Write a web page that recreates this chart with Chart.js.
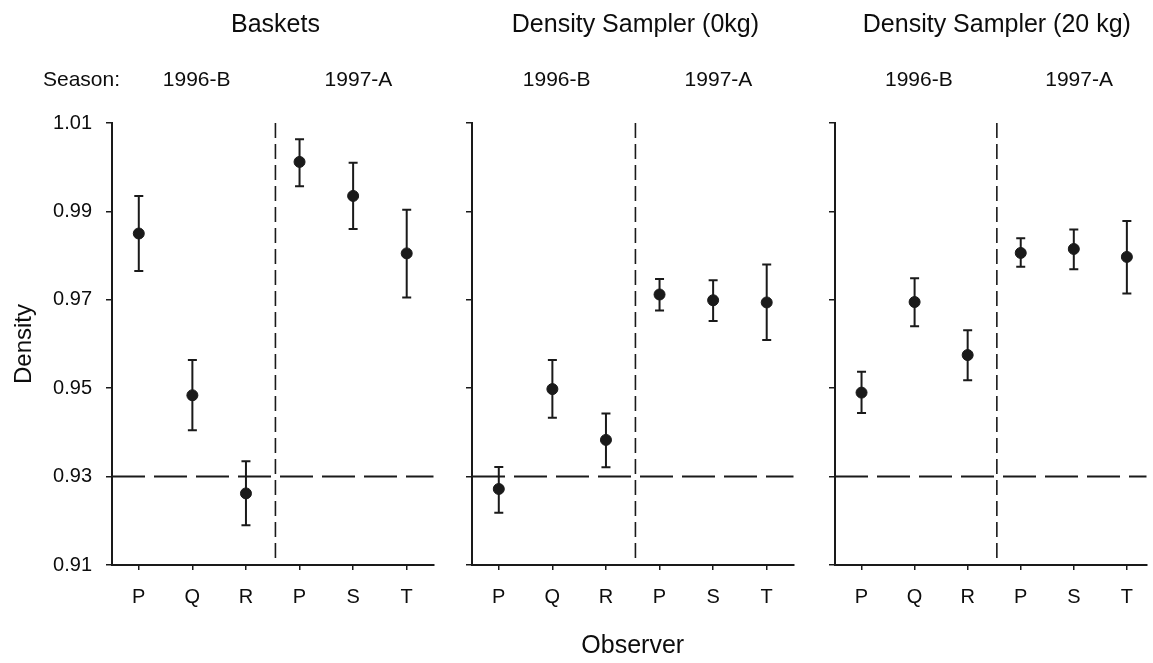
<!DOCTYPE html>
<html>
<head>
<meta charset="utf-8">
<title>Density by observer</title>
<script src="https://cdn.jsdelivr.net/npm/chart.js@4.4.1/dist/chart.umd.min.js"></script>
<style>
  html, body { margin: 0; padding: 0; background: #fff; }
  #wrap { position: relative; width: 1153px; height: 663px; overflow: hidden; }
  #wrap canvas { position: absolute; top: 0; }
</style>
</head>
<body>
<div id="wrap">
  <canvas id="panel0" width="440" height="663" style="left:0"></canvas>
  <canvas id="panel1" width="360" height="663" style="left:440px"></canvas>
  <canvas id="panel2" width="353" height="663" style="left:800px"></canvas>
</div>
<script>
// observers per season, same order in every panel
const observers = ['P', 'Q', 'R', 'P', 'S', 'T'];
const seasons = ['1996-B', '1997-A'];
const panelTitles = ['Baskets', 'Density Sampler (0kg)', 'Density Sampler (20 kg)'];
const yTicks = [0.91, 0.93, 0.95, 0.97, 0.99, 1.01];

// mean density with lower / upper ends of the error bars
const basketsMean = [0.9850, 0.9484, 0.9262, 1.0012, 0.9935, 0.9805];
const basketsLow  = [0.9765, 0.9405, 0.9190, 0.9957, 0.9860, 0.9705];
const basketsHigh = [0.9935, 0.9564, 0.9335, 1.0063, 1.0010, 0.9904];

const sampler0Mean = [0.9272, 0.9498, 0.9383, 0.9712, 0.9699, 0.9694];
const sampler0Low  = [0.9218, 0.9433, 0.9321, 0.9676, 0.9652, 0.9609];
const sampler0High = [0.9322, 0.9564, 0.9443, 0.9747, 0.9744, 0.9780];

const sampler20Mean = [0.9490, 0.9695, 0.9575, 0.9806, 0.9815, 0.9797];
const sampler20Low  = [0.9444, 0.9640, 0.9518, 0.9775, 0.9769, 0.9714];
const sampler20High = [0.9537, 0.9749, 0.9631, 0.9839, 0.9859, 0.9878];

const referenceDensity = 0.93;
const seasonSplit = 2.55;
const seasonCenters = [1.08, 4.1];

const INK = '#1a1a1a';
const FONT = "'Liberation Sans', Arial, Helvetica, sans-serif";
Chart.defaults.font.family = FONT;
Chart.defaults.color = '#0d0d0d';

const panels = [
  { id: 'panel0', mean: basketsMean, low: basketsLow, high: basketsHigh, yWidth: 112, padRight: 4, xMax: 5.5, first: true },
  { id: 'panel1', mean: sampler0Mean, low: sampler0Low, high: sampler0High, yWidth: 32, padRight: 3, xMax: 5.5, middle: true },
  { id: 'panel2', mean: sampler20Mean, low: sampler20Low, high: sampler20High, yWidth: 35, padRight: 0, xMax: 5.37 }
];

// error bars, season divider, reference line and header text
const panelDecor = (panel, idx) => ({
  id: 'panelDecor' + idx,
  beforeDatasetsDraw(chart) {
    const { ctx, scales: { x, y } } = chart;
    ctx.save();
    ctx.strokeStyle = INK;

    // horizontal reference line
    ctx.lineWidth = 2;
    ctx.setLineDash([33, 9]);
    const ry = y.getPixelForValue(referenceDensity);
    ctx.beginPath();
    ctx.moveTo(x.left, ry);
    ctx.lineTo(x.right, ry);
    ctx.stroke();

    // vertical season divider
    ctx.lineWidth = 1.6;
    ctx.setLineDash([15, 6]);
    const sx = x.getPixelForValue(seasonSplit);
    ctx.beginPath();
    ctx.moveTo(sx, y.top);
    ctx.lineTo(sx, y.bottom);
    ctx.stroke();

    // error bars
    ctx.setLineDash([]);
    ctx.lineWidth = 2;
    panel.low.forEach((lo, i) => {
      const px = x.getPixelForValue(i);
      const top = y.getPixelForValue(panel.high[i]);
      const bot = y.getPixelForValue(lo);
      ctx.beginPath();
      ctx.moveTo(px, top); ctx.lineTo(px, bot);
      ctx.moveTo(px - 4.5, top); ctx.lineTo(px + 4.5, top);
      ctx.moveTo(px - 4.5, bot); ctx.lineTo(px + 4.5, bot);
      ctx.stroke();
    });
    ctx.restore();
  },
  afterDraw(chart) {
    const { ctx, scales: { x } } = chart;
    ctx.save();
    ctx.fillStyle = '#0d0d0d';
    ctx.textBaseline = 'middle';
    ctx.textAlign = 'center';
    ctx.font = '25px ' + FONT;
    ctx.fillText(panelTitles[idx], x.getPixelForValue(seasonSplit), 25);
    ctx.font = '21px ' + FONT;
    seasons.forEach((s, k) => ctx.fillText(s, x.getPixelForValue(seasonCenters[k]), 80));
    if (panel.first) {
      ctx.textAlign = 'right';
      ctx.fillText('Season:', x.left + 8, 80);
    }
    ctx.restore();
  }
});

panels.forEach((panel, idx) => {
  new Chart(document.getElementById(panel.id), {
    type: 'scatter',
    data: {
      datasets: [{
        data: panel.mean.map((v, i) => ({ x: i, y: v })),
        pointRadius: 5.5,
        pointBackgroundColor: INK,
        pointBorderColor: INK,
        pointBorderWidth: 1
      }]
    },
    options: {
      responsive: false,
      animation: false,
      events: [],
      layout: { padding: { top: 123, right: panel.padRight, bottom: 0, left: 0 } },
      plugins: { legend: { display: false }, tooltip: { enabled: false } },
      scales: {
        x: {
          type: 'linear',
          min: -0.5,
          max: panel.xMax,
          afterBuildTicks: (scale) => { scale.ticks = observers.map((_, i) => ({ value: i })); },
          afterFit: (scale) => { scale.height = 98; },
          ticks: {
            padding: 15,
            font: { size: 20 },
            color: '#0d0d0d',
            callback: (v, i) => observers[i]
          },
          grid: { drawOnChartArea: false, drawTicks: true, tickLength: 5, color: INK, lineWidth: 1.5 },
          border: { display: true, color: INK, width: 2 },
          title: {
            display: !!panel.middle,
            text: 'Observer',
            font: { size: 25 },
            color: '#0d0d0d',
            padding: { top: 0, bottom: 2 }
          }
        },
        y: {
          type: 'linear',
          min: 0.91,
          max: 1.01,
          afterBuildTicks: (scale) => { scale.ticks = yTicks.map(v => ({ value: v })); },
          afterFit: (scale) => { scale.width = panel.yWidth; },
          ticks: {
            display: !!panel.first,
            padding: 14,
            font: { size: 20 },
            color: '#0d0d0d',
            callback: (v) => v.toFixed(2)
          },
          grid: { drawOnChartArea: false, drawTicks: true, tickLength: 6, color: INK, lineWidth: 1.5 },
          border: { display: true, color: INK, width: 2 },
          title: {
            display: !!panel.first,
            text: 'Density',
            font: { size: 24 },
            color: '#0d0d0d',
            padding: { top: 10, bottom: 0 }
          }
        }
      }
    },
    plugins: [panelDecor(panel, idx)]
  });
});
</script>
</body>
</html>
